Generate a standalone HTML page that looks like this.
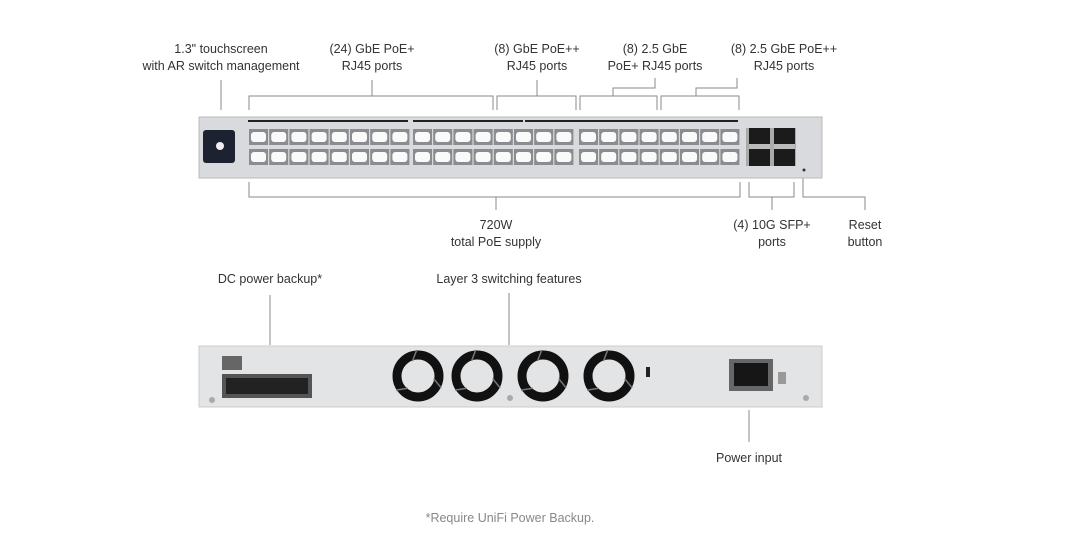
<!DOCTYPE html>
<html><head><meta charset="utf-8"><style>
html,body{margin:0;padding:0;background:#fff;width:1074px;height:547px;overflow:hidden}
svg text{font-family:"Liberation Sans",sans-serif;font-size:12.5px;fill:#333;text-anchor:middle}
</style></head><body>
<svg id="s" width="1074" height="547" viewBox="0 0 1074 547" xmlns="http://www.w3.org/2000/svg">
<g fill="none" stroke="#8a8a8a" stroke-width="1">
<path d="M221 80V110"/>
<path d="M249 110V96H493V110M372 80V96"/>
<path d="M497 110V96H576V110M537 80V96"/>
<path d="M580 110V96H657V110M613 96V88H655V78"/>
<path d="M661 110V96H739V110M696 96V88H737V78"/>
<path d="M249 182V197H740V182M496 197V210"/>
<path d="M749 182V197H794V182M772 197V210"/>
<path d="M803 170V197H865V210"/>
<path d="M270 295V345"/>
<path d="M509 293V345"/>
<path d="M749 410V442"/>
</g>
<text x="221" y="53">1.3" touchscreen</text>
<text x="221" y="70">with AR switch management</text>
<text x="372" y="53">(24) GbE PoE+</text>
<text x="372" y="70">RJ45 ports</text>
<text x="537" y="53">(8) GbE PoE++</text>
<text x="537" y="70">RJ45 ports</text>
<text x="655" y="53">(8) 2.5 GbE</text>
<text x="655" y="70">PoE+ RJ45 ports</text>
<text x="784" y="53">(8) 2.5 GbE PoE++</text>
<text x="784" y="70">RJ45 ports</text>
<text x="496" y="229">720W</text>
<text x="496" y="246">total PoE supply</text>
<text x="772" y="229">(4) 10G SFP+</text>
<text x="772" y="246">ports</text>
<text x="865" y="229">Reset</text>
<text x="865" y="246">button</text>
<text x="270" y="283">DC power backup*</text>
<text x="509" y="283">Layer 3 switching features</text>
<text x="749" y="462">Power input</text>
<text x="510" y="522" style="fill:#888">*Require UniFi Power Backup.</text>
<rect x="199" y="117" width="623" height="61" fill="#d9dadd" stroke="#bbb"/>
<rect x="203" y="130" width="32" height="33" rx="3" fill="#1c2230"/>
<circle cx="220" cy="146" r="4" fill="#eee"/>
<rect x="248" y="120" width="160" height="2" fill="#222"/>
<rect x="413" y="120" width="110" height="2" fill="#222"/>
<rect x="525" y="120" width="213" height="2" fill="#222"/>
<rect x="746" y="128" width="50" height="38" fill="#aaa"/>
<rect x="749" y="128" width="21" height="38" fill="#1b1b1b"/>
<rect x="774" y="128" width="21" height="38" fill="#1b1b1b"/>
<rect x="749" y="144" width="21" height="5" fill="#bbb"/>
<rect x="774" y="144" width="21" height="5" fill="#bbb"/>
<circle cx="804" cy="170" r="1.5" fill="#333"/>
<g id="ports"></g>
<rect x="199" y="346" width="623" height="61" fill="#e3e4e6" stroke="#ccc"/>
<rect x="222" y="374" width="90" height="24" fill="#555"/>
<rect x="226" y="378" width="82" height="16" fill="#222"/>
<rect x="222" y="356" width="20" height="14" fill="#666"/>
<circle cx="212" cy="400" r="3" fill="#aaa"/>
<circle cx="510" cy="398" r="3" fill="#aaa"/>
<circle cx="806" cy="398" r="3" fill="#aaa"/>
<g id="fans"></g>
<rect x="729" y="359" width="44" height="32" fill="#666"/>
<rect x="734" y="363" width="34" height="23" fill="#161616"/>
<rect x="778" y="372" width="8" height="12" fill="#999"/>
<rect x="646" y="367" width="4" height="10" fill="#222"/>
</svg>
<script>
var g=document.getElementById('ports'),h='';
var xs=[];
for(var b=0;b<3;b++)for(var i=0;i<8;i++)xs.push([249,413,579][b]+i*20.2);
xs.forEach(function(x){
 [129,149].forEach(function(y){
  h+='<rect x="'+x+'" y="'+y+'" width="19" height="16" fill="#8a8c90"/>';
  h+='<rect x="'+(x+2)+'" y="'+(y+3)+'" width="15" height="10" rx="3" fill="#fafafa"/>';
 });
});
g.innerHTML=h;
var f=document.getElementById('fans'),s='';
[418,477,543,609].forEach(function(c){
 s+='<circle cx="'+c+'" cy="376" r="21" fill="none" stroke="#111" stroke-width="9"/>';
 [250,10,130].forEach(function(a){
  var r=a*Math.PI/180;
  s+='<line x1="'+(c+16*Math.cos(r))+'" y1="'+(376+16*Math.sin(r))+'" x2="'+(c+26*Math.cos(r+0.3))+'" y2="'+(376+26*Math.sin(r+0.3))+'" stroke="#777" stroke-width="1.5"/>';
 });
});
f.innerHTML=s;
</script>
</body></html>
